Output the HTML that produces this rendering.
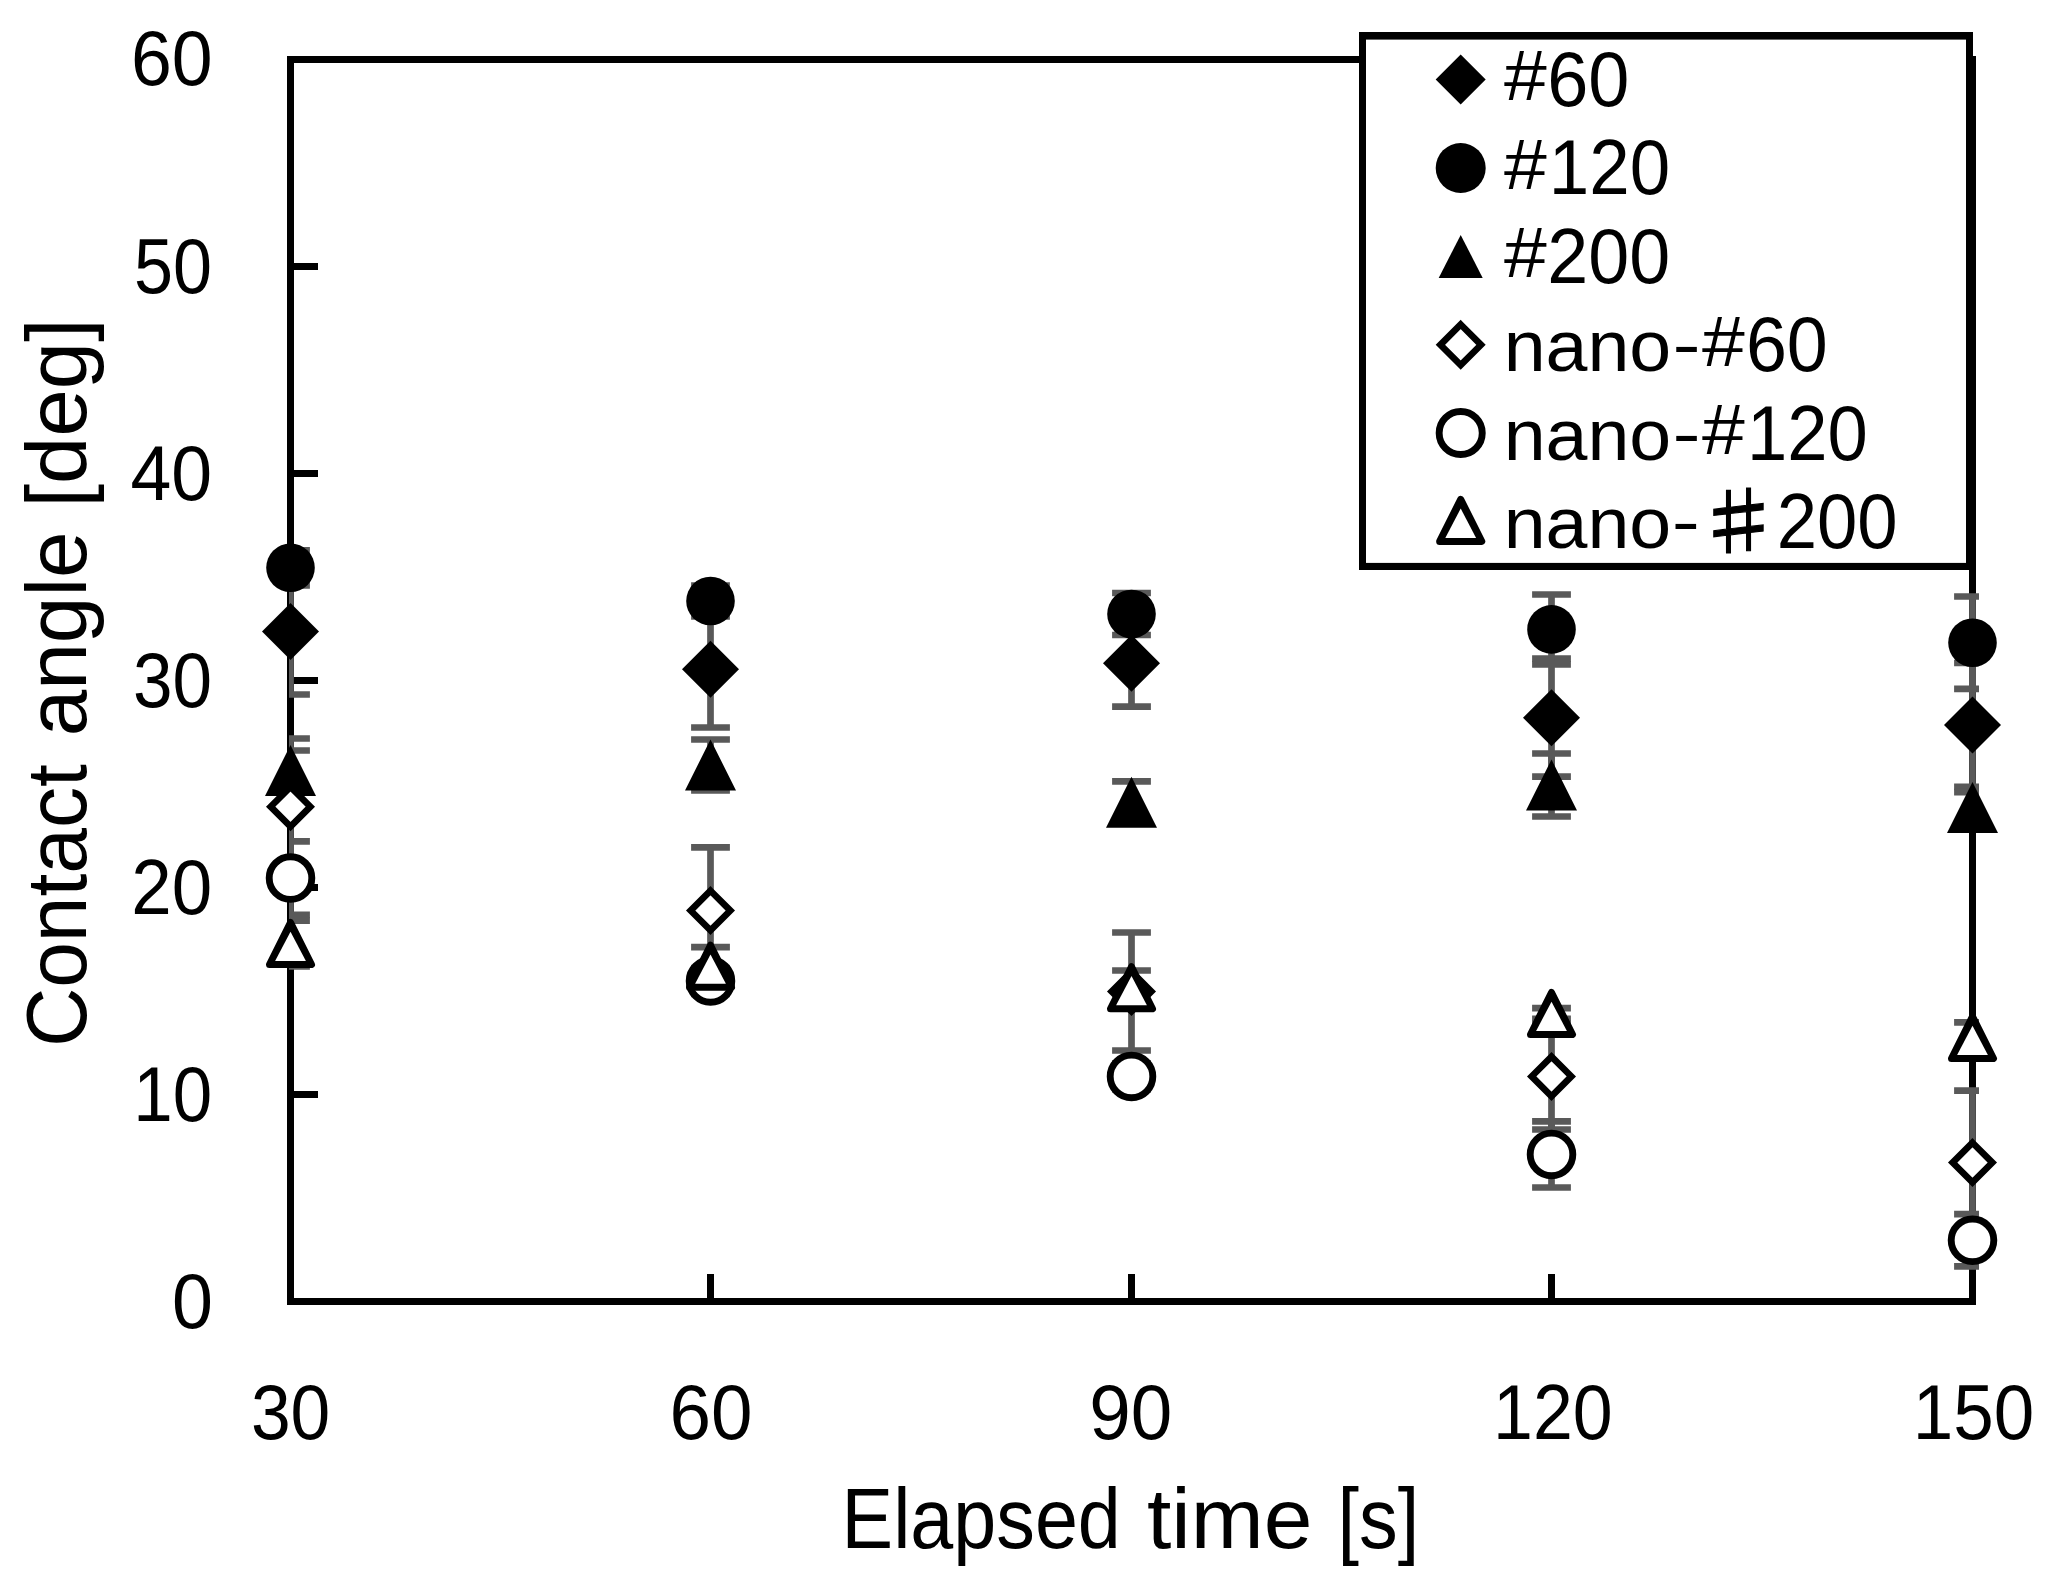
<!DOCTYPE html>
<html lang="en">
<head>
<meta charset="utf-8">
<title>Contact angle vs. elapsed time</title>
<style>
html,body{margin:0;padding:0;background:#fff;}
body{width:2051px;height:1588px;}
svg{display:block;}
text{font-family:"Liberation Sans",sans-serif;fill:#000;}
.jp{font-family:"Noto Sans CJK JP","Liberation Sans",sans-serif;}
</style>
</head>
<body>
<svg width="2051" height="1588" viewBox="0 0 2051 1588">
<rect width="2051" height="1588" fill="#fff"/>
<defs><clipPath id="plotclip"><rect x="289" y="40" width="1690" height="1300"/></clipPath></defs>
<!-- plot frame and tick marks -->
<g id="axes" fill="#000">
<rect x="287" y="56" width="1689" height="7"/>
<rect x="287" y="1298" width="1689" height="7"/>
<rect x="287" y="56" width="7" height="1249"/>
<rect x="1969" y="56" width="7" height="1249"/>
<rect x="294" y="263" width="24" height="7"/>
<rect x="294" y="470" width="24" height="7"/>
<rect x="294" y="677" width="24" height="7"/>
<rect x="294" y="884" width="24" height="7"/>
<rect x="294" y="1091" width="24" height="7"/>
<rect x="707" y="1274" width="7" height="24"/>
<rect x="1128" y="1274" width="7" height="24"/>
<rect x="1548" y="1274" width="7" height="24"/>
</g>
<!-- error bars -->
<g id="errorbars" clip-path="url(#plotclip)" stroke="#595959" stroke-width="6.7" fill="none">
<path id="err-s60" d="M290.5 568.5V694.5M271.1 568.5h38.8M271.1 694.5h38.8M710.5 611.1V727.5M691.1 611.1h38.8M691.1 727.5h38.8M1131.5 619.8V706.6M1112.1 619.8h38.8M1112.1 706.6h38.8M1551.5 658.7V776.7M1532.1 658.7h38.8M1532.1 776.7h38.8M1972.5 663V786.8M1954.1 663h37.8M1954.1 786.8h37.8"/>
<path id="err-s120" d="M290.5 550.3V585.3M271.1 550.3h38.8M271.1 585.3h38.8M710.5 585.5V616.5M691.1 585.5h38.8M691.1 616.5h38.8M1131.5 593V635M1112.1 593h38.8M1112.1 635h38.8M1551.5 594.5V664.3M1532.1 594.5h38.8M1532.1 664.3h38.8M1972.5 596.5V688.9M1954.1 596.5h37.8M1954.1 688.9h37.8"/>
<path id="err-s200" d="M290.5 750.5V790.5M271.1 750.5h38.8M271.1 790.5h38.8M710.5 739.5V790.5M691.1 739.5h38.8M691.1 790.5h38.8M1131.5 781.3V823.3M1112.1 781.3h38.8M1112.1 823.3h38.8M1551.5 753.5V816.5M1532.1 753.5h38.8M1532.1 816.5h38.8M1972.5 792.2V822.8M1954.1 792.2h37.8M1954.1 822.8h37.8"/>
<path id="err-n60" d="M290.5 738.5V874.9M271.1 738.5h38.8M271.1 874.9h38.8M710.5 847.4V973.8M691.1 847.4h38.8M691.1 973.8h38.8M1131.5 932.5V1050.5M1112.1 932.5h38.8M1112.1 1050.5h38.8M1551.5 1023.3V1129.5M1532.1 1023.3h38.8M1532.1 1129.5h38.8M1972.5 1090.6V1234.6M1954.1 1090.6h37.8M1954.1 1234.6h37.8"/>
<path id="err-n120" d="M290.5 841.4V914.8M271.1 841.4h38.8M271.1 914.8h38.8M710.5 968V994M691.1 968h38.8M691.1 994h38.8M1131.5 1063.4V1089.4M1112.1 1063.4h38.8M1112.1 1089.4h38.8M1551.5 1121.4V1187.5M1532.1 1121.4h38.8M1532.1 1187.5h38.8M1972.5 1214.2V1266.4M1954.1 1214.2h37.8M1954.1 1266.4h37.8"/>
<path id="err-n200" d="M290.5 920.6V966.4M271.1 920.6h38.8M271.1 966.4h38.8M710.5 947.2V985.2M691.1 947.2h38.8M691.1 985.2h38.8M1131.5 970.5V1005M1112.1 970.5h38.8M1112.1 1005h38.8M1551.5 1008.1V1018.9M1532.1 1008.1h38.8M1532.1 1018.9h38.8M1972.5 1022.4V1052.6M1954.1 1022.4h37.8M1954.1 1052.6h37.8"/>
</g>
<!-- data markers -->
<g id="markers">
<g id="pts-s60" fill="#000">
<polygon points="290.5,603 319,631.5 290.5,660 262,631.5"/>
<polygon points="710.5,640.8 739,669.3 710.5,697.8 682,669.3"/>
<polygon points="1131.5,634.7 1160,663.2 1131.5,691.7 1103,663.2"/>
<polygon points="1551.5,689.2 1580,717.7 1551.5,746.2 1523,717.7"/>
<polygon points="1972.5,696.4 2001,724.9 1972.5,753.4 1944,724.9"/>
</g>
<g id="pts-s120" fill="#000">
<circle cx="290.5" cy="567.8" r="24.3"/>
<circle cx="710.5" cy="601" r="24.3"/>
<circle cx="1131.5" cy="614" r="24.3"/>
<circle cx="1551.5" cy="629.4" r="24.3"/>
<circle cx="1972.5" cy="642.7" r="24.3"/>
</g>
<g id="pts-s200" fill="#000">
<polygon points="290.5,745 316,796 265,796"/>
<polygon points="710.5,739.5 736,790.5 685,790.5"/>
<polygon points="1131.5,776.8 1157,827.8 1106,827.8"/>
<polygon points="1551.5,759.5 1577,810.5 1526,810.5"/>
<polygon points="1972.5,782 1998,833 1947,833"/>
</g>
<g id="pts-n60" fill="#fff" stroke="#000" stroke-width="6.6">
<polygon points="290.5,786.85 310.35,806.7 290.5,826.55 270.65,806.7"/>
<polygon points="710.5,890.75 730.35,910.6 710.5,930.45 690.65,910.6"/>
<polygon points="1131.5,971.65 1151.35,991.5 1131.5,1011.35 1111.65,991.5"/>
<polygon points="1551.5,1056.55 1571.35,1076.4 1551.5,1096.25 1531.65,1076.4"/>
<polygon points="1972.5,1142.75 1992.35,1162.6 1972.5,1182.45 1952.65,1162.6"/>
</g>
<g id="pts-n120" fill="#fff" stroke="#000" stroke-width="6.9">
<circle cx="290.5" cy="878.1" r="21.3"/>
<circle cx="710.5" cy="981" r="21.3"/>
<circle cx="1131.5" cy="1076.4" r="21.3"/>
<circle cx="1551.5" cy="1154.45" r="21.3"/>
<circle cx="1972.5" cy="1240.3" r="21.3"/>
</g>
<g id="pts-n200" >
<polygon points="290.5,922.5 311.5,964.5 269.5,964.5" fill="#000" stroke="#000" stroke-width="7" stroke-linejoin="round"/><polygon points="290.5,931.7 305.9,961 275.1,961" fill="#fff"/>
<polygon points="710.5,945.2 731.5,987.2 689.5,987.2" fill="#000" stroke="#000" stroke-width="7" stroke-linejoin="round"/><polygon points="710.5,954.4 725.9,983.7 695.1,983.7" fill="#fff"/>
<polygon points="1131.5,966.75 1152.5,1008.75 1110.5,1008.75" fill="#000" stroke="#000" stroke-width="7" stroke-linejoin="round"/><polygon points="1131.5,975.95 1146.9,1005.25 1116.1,1005.25" fill="#fff"/>
<polygon points="1551.5,992.5 1572.5,1034.5 1530.5,1034.5" fill="#000" stroke="#000" stroke-width="7" stroke-linejoin="round"/><polygon points="1551.5,1001.7 1566.9,1031 1536.1,1031" fill="#fff"/>
<polygon points="1972.5,1016.5 1993.5,1058.5 1951.5,1058.5" fill="#000" stroke="#000" stroke-width="7" stroke-linejoin="round"/><polygon points="1972.5,1025.7 1987.9,1055 1957.1,1055" fill="#fff"/>
</g>
</g>
<!-- legend -->
<g id="legend">
<rect x="1359" y="32" width="614" height="538" fill="#000"/>
<rect x="1366" y="39.6" width="600" height="523.3" fill="#fff"/>
<g fill="#000"><polygon points="1460.7,54.5 1485.7,79.5 1460.7,104.5 1435.7,79.5"/></g>
<g fill="#000"><circle cx="1460.7" cy="168" r="25"/></g>
<g fill="#000"><polygon points="1460.7,234.9 1482.7,277.9 1438.7,277.9"/></g>
<g fill="#fff" stroke="#000" stroke-width="6.6"><polygon points="1460.7,324.47 1481.03,344.8 1460.7,365.13 1440.37,344.8"/></g>
<g fill="#fff" stroke="#000" stroke-width="6.9"><circle cx="1460.7" cy="433" r="21.55"/></g>
<g ><polygon points="1460.7,499.3 1481.75,541.4 1439.65,541.4" fill="#000" stroke="#000" stroke-width="7" stroke-linejoin="round"/><polygon points="1460.7,508.55 1476.1,537.9 1445.3,537.9" fill="#fff"/></g>
<text><tspan x="1503.9" y="100.4" font-size="70.2" textLength="42.78" lengthAdjust="spacingAndGlyphs">#</tspan><tspan x="1547.16" y="106" font-size="77.5" textLength="82.17" lengthAdjust="spacingAndGlyphs">60</tspan></text>
<text><tspan x="1503.9" y="188.7" font-size="70.2" textLength="42.78" lengthAdjust="spacingAndGlyphs">#</tspan><tspan x="1548.78" y="194.3" font-size="77.5" textLength="121.32" lengthAdjust="spacingAndGlyphs">120</tspan></text>
<text><tspan x="1503.9" y="277.2" font-size="70.2" textLength="42.78" lengthAdjust="spacingAndGlyphs">#</tspan><tspan x="1547.32" y="282.8" font-size="77.5" textLength="122.82" lengthAdjust="spacingAndGlyphs">200</tspan></text>
<text><tspan x="1503.73" y="371.2" font-size="71.5" textLength="167.54" lengthAdjust="spacingAndGlyphs">nano</tspan><tspan x="1672.62" y="367" font-size="65" textLength="28.12" lengthAdjust="spacingAndGlyphs">-</tspan><tspan x="1702" y="365.6" font-size="70.2" textLength="42.78" lengthAdjust="spacingAndGlyphs">#</tspan><tspan x="1745.92" y="371.2" font-size="77.5" textLength="81.9" lengthAdjust="spacingAndGlyphs">60</tspan></text>
<text><tspan x="1503.73" y="459.8" font-size="71.5" textLength="167.54" lengthAdjust="spacingAndGlyphs">nano</tspan><tspan x="1672.62" y="455.6" font-size="65" textLength="28.12" lengthAdjust="spacingAndGlyphs">-</tspan><tspan x="1702" y="454.2" font-size="70.2" textLength="42.78" lengthAdjust="spacingAndGlyphs">#</tspan><tspan x="1746.91" y="459.8" font-size="77.5" textLength="120.78" lengthAdjust="spacingAndGlyphs">120</tspan></text>
<text><tspan x="1503.73" y="548" font-size="71.5" textLength="167.54" lengthAdjust="spacingAndGlyphs">nano</tspan><tspan x="1671.72" y="543.8" font-size="65" textLength="28.12" lengthAdjust="spacingAndGlyphs">-</tspan><tspan x="1691.83" y="549.23" font-size="74.37" class="jp" textLength="93.85" lengthAdjust="spacingAndGlyphs" stroke="#000" stroke-width="1.1">♯</tspan><tspan x="1776.67" y="548" font-size="77.5" textLength="121.03" lengthAdjust="spacingAndGlyphs">200</tspan></text>
</g>
<!-- axis tick labels -->
<g id="ylabels">
<text><tspan x="130.93" y="85.3" font-size="77.5" textLength="81.68" lengthAdjust="spacingAndGlyphs">60</tspan></text>
<text><tspan x="134.1" y="293.1" font-size="77.5" textLength="77.97" lengthAdjust="spacingAndGlyphs">50</tspan></text>
<text><tspan x="130.53" y="500" font-size="77.5" textLength="81.68" lengthAdjust="spacingAndGlyphs">40</tspan></text>
<text><tspan x="133.06" y="707.2" font-size="77.5" textLength="79.05" lengthAdjust="spacingAndGlyphs">30</tspan></text>
<text><tspan x="131.26" y="913.9" font-size="77.5" textLength="80.92" lengthAdjust="spacingAndGlyphs">20</tspan></text>
<text><tspan x="133.23" y="1120.9" font-size="77.5" textLength="78.88" lengthAdjust="spacingAndGlyphs">10</tspan></text>
<text><tspan x="171.96" y="1328" font-size="77.5" textLength="40.91" lengthAdjust="spacingAndGlyphs">0</tspan></text>
</g>
<g id="xlabels">
<text><tspan x="250.95" y="1439.2" font-size="77.5" textLength="79.38" lengthAdjust="spacingAndGlyphs">30</tspan></text>
<text><tspan x="669.47" y="1439.2" font-size="77.5" textLength="82.99" lengthAdjust="spacingAndGlyphs">60</tspan></text>
<text><tspan x="1089.37" y="1439.2" font-size="77.5" textLength="82.99" lengthAdjust="spacingAndGlyphs">90</tspan></text>
<text><tspan x="1493.07" y="1439.2" font-size="77.5" textLength="119.6" lengthAdjust="spacingAndGlyphs">120</tspan></text>
<text><tspan x="1912.78" y="1439.2" font-size="77.5" textLength="121.43" lengthAdjust="spacingAndGlyphs">150</tspan></text>
</g>
<!-- axis titles -->
<text id="xtitle"><tspan x="841.62" y="1548" font-size="85" textLength="279.22" lengthAdjust="spacingAndGlyphs">Elapsed</tspan> <tspan x="1146.95" y="1548" font-size="85" textLength="165.46" lengthAdjust="spacingAndGlyphs">time</tspan> <tspan x="1337.38" y="1548" font-size="85" textLength="81.79" lengthAdjust="spacingAndGlyphs">[s]</tspan></text>
<text id="ytitle" transform="translate(85.5,0) rotate(-90)"><tspan x="-1047.11" y="0" font-size="85" textLength="283.03" lengthAdjust="spacingAndGlyphs">Contact</tspan> <tspan x="-736.35" y="0" font-size="85" textLength="204.98" lengthAdjust="spacingAndGlyphs">angle</tspan> <tspan x="-507.55" y="0" font-size="85" textLength="189.17" lengthAdjust="spacingAndGlyphs">[deg]</tspan></text>
</svg>
</body>
</html>
